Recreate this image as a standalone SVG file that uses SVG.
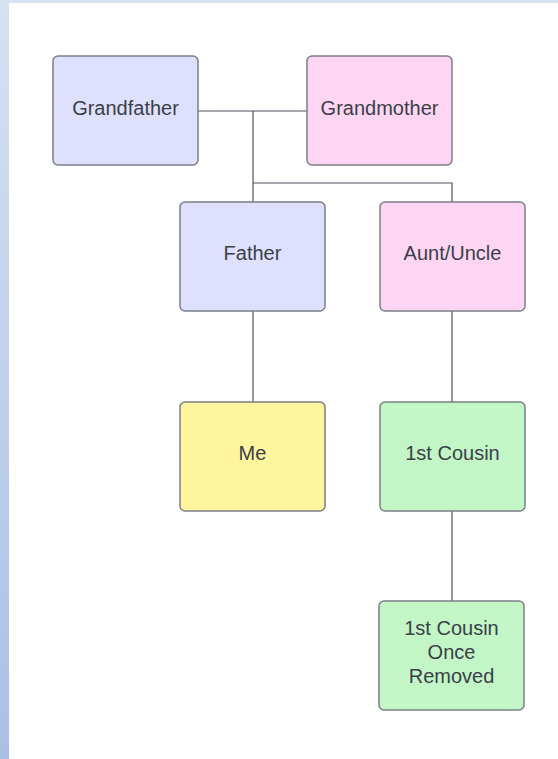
<svg xmlns="http://www.w3.org/2000/svg" width="558" height="759" viewBox="0 0 558 759">
<defs>
<linearGradient id="bg" x1="0" y1="0" x2="0" y2="1">
<stop offset="0" stop-color="#d6e1f2"/>
<stop offset="1" stop-color="#a9c0e6"/>
</linearGradient>
<style>
.n rect{stroke:#7b7f88;stroke-width:1.5}
.n text{font-family:"Liberation Sans",Arial,sans-serif;font-size:20px;fill:#3a3f47;text-anchor:middle}
.blue rect{fill:#dfe0fd}
.pink rect{fill:#fed6f4}
.yellow rect{fill:#fff59f}
.green rect{fill:#c2f6c7}
#connectors path{fill:none;stroke:#4d525a;stroke-width:1.2}
</style>
</defs>
<rect x="0" y="0" width="558" height="759" fill="url(#bg)"/>
<rect x="9" y="3" width="549" height="756" fill="#ffffff"/>
<g id="connectors">
<path d="M198,111 H307"/>
<path d="M253,111 V202"/>
<path d="M253,183 H452 V202"/>
<path d="M253,311 V402"/>
<path d="M452,311 V402"/>
<path d="M452,511 V601"/>
</g>
<g id="grandfather" class="n blue"><rect x="53" y="56" width="145" height="109" rx="5"/><text x="125.5" y="115">Grandfather</text></g>
<g id="grandmother" class="n pink"><rect x="307" y="56" width="145" height="109" rx="5"/><text x="379.5" y="115">Grandmother</text></g>
<g id="father" class="n blue"><rect x="180" y="202" width="145" height="109" rx="5"/><text x="252.5" y="260">Father</text></g>
<g id="aunt-uncle" class="n pink"><rect x="380" y="202" width="145" height="109" rx="5"/><text x="452.5" y="260">Aunt/Uncle</text></g>
<g id="me" class="n yellow"><rect x="180" y="402" width="145" height="109" rx="5"/><text x="252.5" y="460">Me</text></g>
<g id="first-cousin" class="n green"><rect x="380" y="402" width="145" height="109" rx="5"/><text x="452.5" y="460">1st Cousin</text></g>
<g id="first-cousin-once-removed" class="n green"><rect x="379" y="601" width="145" height="109" rx="5"/><text x="451.5" y="635">1st Cousin</text><text x="451.5" y="659">Once</text><text x="451.5" y="683">Removed</text></g>
</svg>
